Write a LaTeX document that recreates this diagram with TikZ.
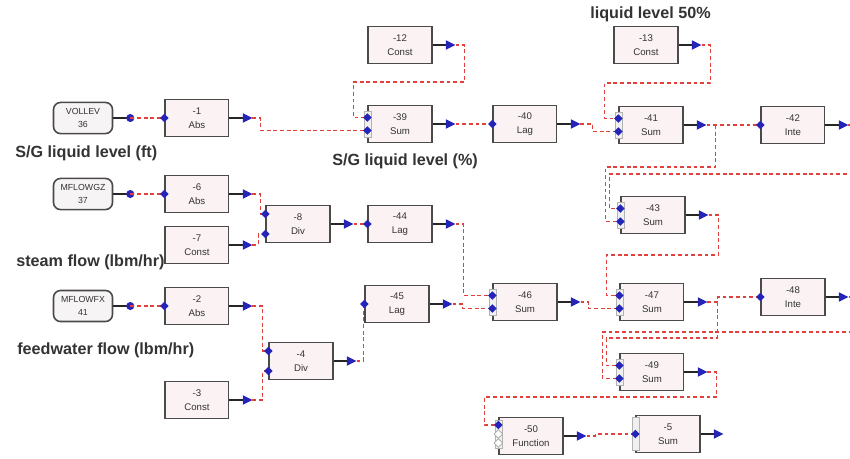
\documentclass[tikz,border=0pt]{standalone}
\usepackage{fontspec}
\setmainfont{Liberation Sans}
\usepackage{tikz}
\usetikzlibrary{shapes.geometric,arrows.meta,positioning}
\definecolor{blkFill}{HTML}{FBF3F3}
\definecolor{blkLine}{HTML}{4A4A4A}
\definecolor{srcFill}{HTML}{F6F4F4}
\definecolor{portBlue}{HTML}{2424B8}
\definecolor{wireRed}{HTML}{E2403A}
\definecolor{txtGray}{HTML}{333333}
\tikzset{
  blk/.style={rectangle,draw=blkLine,fill=blkFill,line width=0.6pt,
    minimum width=1.28cm,minimum height=0.74cm,align=center,
    text=txtGray,font=\fontsize{5.5}{8}\selectfont},
  src/.style={rectangle,rounded corners=4pt,draw=blkLine,fill=srcFill,line width=0.9pt,
    minimum width=1.18cm,minimum height=0.62cm,align=center,
    text=txtGray,font=\fontsize{5}{7.5}\selectfont},
  lbl/.style={inner sep=0pt,text=txtGray,font=\bfseries\fontsize{9.2}{11}\selectfont},
  wire/.style={draw=wireRed,line width=0.7pt,dash pattern=on 2.2pt off 1.6pt},
  outarrow/.style={line width=1.3pt,black!85,-{Triangle[length=5.5pt,width=5pt,color=portBlue]}},
  srcline/.style={line width=1.3pt,black!85},
  inp/.style={diamond,fill=portBlue,inner sep=0pt,minimum size=5pt},
  inpoff/.style={diamond,draw=gray!70,fill=white,inner sep=0pt,minimum size=5pt,line width=0.4pt},
  brkt/.style={rectangle,draw=gray!60,fill=gray!12,line width=0.4pt,inner sep=0pt,
    minimum width=0.14cm,minimum height=0.52cm}
}

\begin{document}
\begin{tikzpicture}[x=0.02cm, y=-0.02cm, on grid]
\path[use as bounding box, fill=white] (0,0) rectangle (850,458);

% S/G level row
\node[src] (vollev) at (83,118) {VOLLEV\\36};
\node[blk, right=2.28cm of vollev] (abs1) {-1\\Abs};
\node[blk] (sum39) at (400,124) {-39\\Sum};
\node[blk, above=1.58cm of sum39] (const12) {-12\\Const};
\node[blk, right=2.5cm of sum39] (lag40) {-40\\Lag};
\node[blk] (sum41) at (651,125) {-41\\Sum};
\node[blk, above=1.6cm of sum41, xshift=-0.1cm] (const13) {-13\\Const};
\node[blk, right=2.84cm of sum41] (inte42) {-42\\Inte};

% steam flow row
\node[src] (mflowgz) at (83,194) {MFLOWGZ\\37};
\node[blk, right=2.28cm of mflowgz] (abs6) {-6\\Abs};
\node[blk, below=1.02cm of abs6] (const7) {-7\\Const};
\node[blk] (div8) at (298,224) {-8\\Div};
\node[blk, right=2.04cm of div8] (lag44) {-44\\Lag};
\node[blk] (sum43) at (653,215) {-43\\Sum};

% feedwater flow row
\node[src] (mflowfx) at (83,306) {MFLOWFX\\41};
\node[blk, right=2.28cm of mflowfx] (abs2) {-2\\Abs};
\node[blk, below=1.88cm of abs2] (const3) {-3\\Const};
\node[blk] (div4) at (301,361) {-4\\Div};
\node[blk] (lag45) at (397,304) {-45\\Lag};
\node[blk] (sum46) at (525,302) {-46\\Sum};
\node[blk, right=2.54cm of sum46] (sum47) {-47\\Sum};
\node[blk] (inte48) at (793,297) {-48\\Inte};
\node[blk, below=1.4cm of sum47] (sum49) {-49\\Sum};
\node[blk] (fun50) at (531,436) {-50\\Function};
\node[blk] (sum5) at (668,434) {-5\\Sum};

% labels
\node[lbl, anchor=west] (lblft) at (15,153) {S/G liquid level (ft)};
\node[lbl, anchor=west] (lblpct) at (332,161) {S/G liquid level (\%)};
\node[lbl, anchor=west] (lblsteam) at (16,262) {steam flow (lbm/hr)};
\node[lbl, anchor=west] (lblfw) at (17,350) {feedwater flow (lbm/hr)};
\node[lbl, anchor=west] (lbl50) at (590,14) {liquid level 50\%};

% ports
\foreach \s in {vollev,mflowgz,mflowfx} {
  \draw[srcline] (\s.east) -- ++(17,0) coordinate (\s-c);
  \fill[portBlue] (\s-c) circle (2.3pt);
}
\foreach \b in {abs1,const12,sum39,lag40,const13,sum41,inte42,abs6,const7,div8,lag44,
    sum43,abs2,const3,div4,lag45,sum46,sum47,inte48,sum49,fun50,sum5}
  \draw[outarrow] (\b.east) -- ++(23,0) coordinate (\b-o);
\foreach \b in {div8,div4} {
  \coordinate (\b-a) at ([yshift=0.2cm]\b.west);
  \coordinate (\b-b) at ([yshift=-0.2cm]\b.west);
}
\foreach \b in {sum39,sum41,sum43,sum46,sum47,sum49} {
  \coordinate (\b-a) at ([yshift=0.13cm]\b.west);
  \coordinate (\b-b) at ([yshift=-0.13cm]\b.west);
}
\coordinate (fun50-a) at ([yshift=0.22cm]fun50.west);

% connections
\draw[wire] (vollev-c) -- (abs1.west);
\draw[wire] (mflowgz-c) -- (abs6.west);
\draw[wire] (mflowfx-c) -- (abs2.west);
\draw[wire] (abs1-o) -- ++(8,0) |- (sum39-b);
\draw[wire] (const12-o) -- ++(9,0) -- ++(0,37) -| ([xshift=-0.28cm]sum39-a) -- (sum39-a);
\draw[wire] (sum39-o) -- (lag40.west);
\draw[wire] (lag40-o) -- ++(12,0) |- (sum41-b);
\draw[wire] (const13-o) -- ++(9,0) -- ++(0,38) -| ([xshift=-0.28cm]sum41-a) -- (sum41-a);
\draw[wire] (sum41-o) -- (inte42.west);
\draw[wire] ([xshift=0.18cm]sum41-o) -- ++(0,42) -| ([xshift=-0.3cm]sum43-b) -- (sum43-b);
\draw[wire] (inte42-o) -- ++(8,0) -- ++(0,49) -| ([xshift=-0.22cm]sum43-a) -- (sum43-a);
\draw[wire] (abs6-o) -- ++(8,0) |- (div8-a);
\draw[wire] (const7-o) -- ++(6,0) |- (div8-b);
\draw[wire] (div8-o) -- (lag44.west);
\draw[wire] (sum43-o) -- ++(10,0) -- ++(0,40) -| ([xshift=-0.26cm]sum47-a) -- (sum47-a);
\draw[wire] (lag44-o) -- ++(8,0) |- (sum46-a);
\draw[wire] (abs2-o) -- ++(10,0) |- (div4-a);
\draw[wire] (const3-o) -- ++(10,0) |- (div4-b);
\draw[wire] (div4-o) -- ++(7,0) |- (lag45.west);
\draw[wire] (lag45-o) -- ++(10,0) |- (sum46-b);
\draw[wire] (sum46-o) -- ++(8,0) |- (sum47-b);
\draw[wire] (sum47-o) -- ++(10,0) |- (inte48.west);
\draw[wire] ([xshift=0.2cm]sum47-o) -- ++(0,36) -| ([xshift=-0.26cm]sum49-a) -- (sum49-a);
\draw[wire] (inte48-o) -- ++(8,0) -- ++(0,35) -| ([xshift=-0.34cm]sum49-b) -- (sum49-b);
\draw[wire] (sum49-o) -- ++(9,0) -- ++(0,25) -| ([xshift=-0.28cm]fun50-a) -- (fun50-a);
\draw[wire] (fun50-o) -- ++(9,0) |- (sum5.west);

% input markers
\foreach \b in {sum39,sum41,sum43,sum46,sum47,sum49}
  \node[brkt] at (\b.west) {};
\node[brkt, minimum height=0.66cm] at (sum5.west) {};
\node[brkt, minimum height=0.56cm] at ([yshift=0.04cm]fun50.west) {};
\foreach \b in {abs1,lag40,inte42,abs6,lag44,abs2,lag45,inte48,sum5}
  \node[inp] at (\b.west) {};
\foreach \b in {div8,div4,sum39,sum41,sum43,sum46,sum47,sum49} {
  \node[inp] at (\b-a) {};
  \node[inp] at (\b-b) {};
}
\node[inp] at (fun50-a) {};
\node[inpoff] at ([yshift=0.04cm]fun50.west) {};
\node[inpoff] at ([yshift=-0.14cm]fun50.west) {};
\end{tikzpicture}
\end{document}
